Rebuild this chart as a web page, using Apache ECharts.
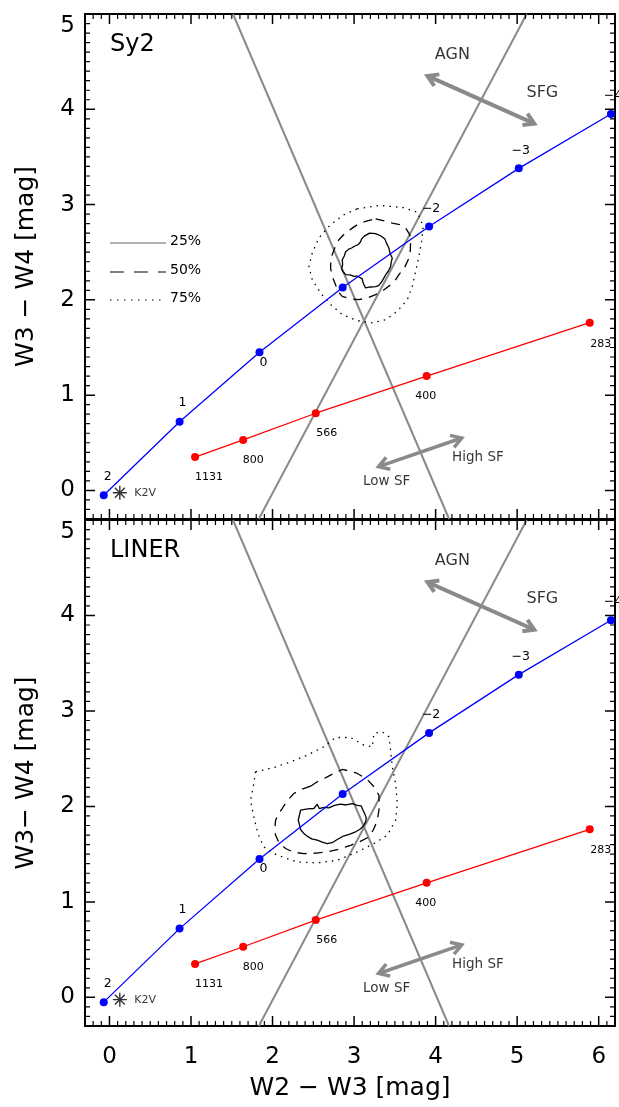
<!DOCTYPE html>
<html>
<head>
<meta charset="utf-8">
<script src="https://cdn.jsdelivr.net/npm/echarts@6/dist/echarts.min.js"></script>
<style>
  html, body { margin: 0; padding: 0; background: #fff; }
  #chart { width: 619px; height: 1107px; }
</style>
</head>
<body>
<div id="chart"></div>
<script>
// ---- axis ranges and tick labels ----
const X_RANGE = [-0.3, 6.2];
const Y_RANGE = [-0.3, 5];
const xTickValues = [0, 1, 2, 3, 4, 5, 6];
const yTickValues = [0, 1, 2, 3, 4, 5];

// ---- power-law AGN track (labelled by spectral index) ----
const plIndexLabels = ['2', '1', '0', '', '−2', '−3', '−4'];
const plW2W3 = [-0.07, 0.86, 1.84, 2.86, 3.92, 5.02, 6.15];
const plW3W4 = [-0.05, 0.72, 1.45, 2.13, 2.77, 3.38, 3.95];

// ---- star-forming track (labelled by dust temperature) ----
const sfLabels = ['1131', '800', '566', '400', '283'];
const sfW2W3 = [1.05, 1.64, 2.53, 3.89, 5.89];
const sfW3W4 = [0.35, 0.53, 0.81, 1.20, 1.76];

// ---- stellar reference ----
const starName = ['K2V'];
const starW2W3 = [0.127];
const starW3W4 = [-0.024];

// ---- dividing lines (end points) ----
const dividerA = [[1.515, 5.0], [4.165, -0.3]];
const dividerB = [[5.117, 5.0], [1.832, -0.3]];

// ---- direction arrows [x1, y1, x2, y2] and their captions ----
const arrowAgnSfg = [3.90, 4.35, 5.21, 3.85];
const arrowSfRate = [3.30, 0.25, 4.32, 0.55];
const captionText = ['AGN', 'SFG', 'Low SF', 'High SF'];
const captionX = [4.205, 5.309, 3.399, 4.519];
const captionY = [4.57, 4.169, 0.091, 0.343];

// ---- density contours, Sy2 sample ----
const sy2C25 = [[3.121,2.666],[3.190,2.700],[3.264,2.694],[3.330,2.670],[3.378,2.638],[3.400,2.590],[3.427,2.544],[3.440,2.490],[3.468,2.439],[3.455,2.390],[3.448,2.351],[3.420,2.300],[3.387,2.264],[3.360,2.220],[3.337,2.187],[3.300,2.150],[3.264,2.138],[3.200,2.135],[3.141,2.125],[3.120,2.160],[3.108,2.187],[3.100,2.220],[3.080,2.236],[3.040,2.250],[2.998,2.246],[2.950,2.262],[2.896,2.264],[2.860,2.300],[2.847,2.327],[2.860,2.370],[2.855,2.421],[2.880,2.460],[2.896,2.502],[2.930,2.530],[2.969,2.544],[3.010,2.565],[3.051,2.579],[3.080,2.610],[3.092,2.638]];
const sy2C50 = [[3.264,2.851],[3.370,2.830],[3.468,2.806],[3.560,2.790],[3.632,2.753],[3.680,2.690],[3.693,2.613],[3.690,2.520],[3.673,2.439],[3.620,2.340],[3.550,2.264],[3.500,2.200],[3.448,2.159],[3.360,2.100],[3.264,2.055],[3.160,2.020],[3.059,2.002],[2.950,2.010],[2.855,2.037],[2.800,2.090],[2.773,2.159],[2.730,2.250],[2.712,2.334],[2.715,2.410],[2.732,2.474],[2.770,2.560],[2.814,2.631],[2.890,2.700],[2.978,2.753],[3.060,2.800],[3.141,2.823]];
const sy2C75 = [[3.039,2.956],[3.305,2.991],[3.591,2.970],[3.775,2.921],[3.849,2.771],[3.828,2.613],[3.795,2.456],[3.755,2.299],[3.714,2.142],[3.653,2.002],[3.530,1.880],[3.387,1.792],[3.223,1.758],[3.039,1.782],[2.855,1.845],[2.712,1.950],[2.589,2.072],[2.487,2.212],[2.446,2.351],[2.487,2.492],[2.568,2.649],[2.691,2.771],[2.855,2.886]];

// ---- density contours, LINER sample ----
const linerC25 = [[2.344,1.960],[2.430,1.975],[2.507,1.978],[2.548,2.023],[2.573,1.978],[2.630,1.990],[2.691,1.984],[2.760,2.010],[2.834,2.023],[2.900,2.015],[2.978,2.030],[3.040,2.010],[3.088,2.005],[3.110,1.960],[3.129,1.926],[3.150,1.880],[3.141,1.838],[3.110,1.790],[3.071,1.761],[3.010,1.730],[2.948,1.709],[2.870,1.690],[2.794,1.653],[2.730,1.620],[2.671,1.611],[2.610,1.625],[2.548,1.646],[2.480,1.660],[2.426,1.688],[2.380,1.720],[2.344,1.758],[2.330,1.810],[2.315,1.855],[2.330,1.910]];
const linerC50 = [[2.466,2.212],[2.570,2.270],[2.671,2.309],[2.760,2.350],[2.855,2.387],[2.950,2.370],[3.039,2.345],[3.110,2.310],[3.162,2.282],[3.250,2.200],[3.304,2.117],[3.310,1.990],[3.285,1.855],[3.240,1.760],[3.182,1.680],[3.070,1.630],[2.957,1.593],[2.810,1.550],[2.671,1.523],[2.530,1.510],[2.384,1.506],[2.260,1.520],[2.160,1.559],[2.080,1.620],[2.037,1.698],[2.030,1.780],[2.037,1.855],[2.070,1.920],[2.119,1.978],[2.180,2.060],[2.261,2.135],[2.360,2.180]];
const linerC75 = [[1.791,2.362],[2.016,2.408],[2.221,2.466],[2.426,2.537],[2.629,2.624],[2.773,2.722],[2.957,2.722],[3.120,2.642],[3.223,2.624],[3.243,2.764],[3.346,2.781],[3.427,2.729],[3.448,2.589],[3.469,2.414],[3.509,2.240],[3.530,2.030],[3.509,1.855],[3.407,1.698],[3.243,1.611],[3.039,1.523],[2.794,1.436],[2.548,1.408],[2.303,1.418],[2.058,1.488],[1.893,1.575],[1.820,1.716],[1.771,1.890],[1.730,2.065],[1.771,2.240]];

const panels = [
  { name: 'Sy2', yTitle: 'W3 − W4 [mag]', contours: [sy2C25, sy2C50, sy2C75], legend: true },
  { name: 'LINER', yTitle: 'W3− W4 [mag]', contours: [linerC25, linerC50, linerC75], legend: false }
];

// ---- styling ----
const FONT = 'DejaVu Sans';
const GRAY = '#8a8a8a';
const plLabelOffsets = [[4, -18], [3, -19], [4, 10], [0, 0], [2, -18], [2, -18], [2, -18]];
const sfLabelOffsets = [[14, 20], [10, 20], [11, 20], [-1, 20], [11, 21]];
const contourDash = ['solid', [9, 7], [1.5, 5]];
const MAJOR_LEN = 10, MINOR_LEN = 5;   // tick lengths in px
const grids = [
  { left: 85, top: 14, width: 530, height: 505 },
  { left: 85, top: 520, width: 530, height: 506 }
];

// tick positions: integers get long ticks, tenths in between get short ones
function minorValues(range) {
  const out = [];
  const lo = Math.round(range[0] * 10), hi = Math.round(range[1] * 10);
  for (let i = lo + 1; i < hi; i++) if (i % 10 !== 0) out.push(i / 10);
  return out;
}
const xMinorValues = minorValues(X_RANGE);
const yMinorValues = minorValues(Y_RANGE);

// Frame ticks as broken line segments in data space: each tick starts on the
// frame and runs inward by a fixed pixel length converted to axis units.
function frameTickData(g, xVals, yVals, lenPx) {
  const grid = grids[g];
  const dx = lenPx * (X_RANGE[1] - X_RANGE[0]) / grid.width;
  const dy = lenPx * (Y_RANGE[1] - Y_RANGE[0]) / grid.height;
  const d = [];
  xVals.forEach(v => {
    d.push([v, Y_RANGE[0]], [v, Y_RANGE[0] + dy], '-');
    d.push([v, Y_RANGE[1]], [v, Y_RANGE[1] - dy], '-');
  });
  yVals.forEach(v => {
    d.push([X_RANGE[0], v], [X_RANGE[0] + dx, v], '-');
    d.push([X_RANGE[1], v], [X_RANGE[1] - dx, v], '-');
  });
  return d;
}

function makeAxis(kind, g, position, showLabels, title) {
  const range = kind === 'x' ? X_RANGE : Y_RANGE;
  const labelSet = kind === 'x' ? xTickValues : yTickValues;
  const axis = {
    type: 'value', gridIndex: g, position: position,
    min: range[0], max: range[1],
    splitNumber: kind === 'x' ? 6 : 5,
    splitLine: { show: false }, minorSplitLine: { show: false },
    axisLine: { show: true, onZero: false, lineStyle: { color: '#000', width: 2 } },
    axisTick: { show: false },
    minorTick: { show: false },
    axisLabel: showLabels ? {
      show: true, showMinLabel: false, showMaxLabel: kind === 'y',
      fontFamily: FONT, fontSize: 23, color: '#000',
      margin: kind === 'x' ? 20 : 10,
      formatter: v => {
        if (labelSet.indexOf(v) < 0) return '';
        return (kind === 'y' && v === range[1]) ? '{top|' + v + '}' : String(v);
      },
      rich: { top: { fontFamily: FONT, fontSize: 23, color: '#000', padding: [24, 0, 0, 0] } }
    } : { show: false }
  };
  if (title) {
    Object.assign(axis, {
      name: title, nameLocation: 'middle',
      nameGap: kind === 'x' ? 50 : 46,
      nameTextStyle: { fontFamily: FONT, fontSize: 25, color: '#000' }
    });
  }
  return axis;
}

const xAxes = [], yAxes = [], series = [], graphics = [];

function arrowItem(params, api) {
  const p1 = api.coord([api.value(0), api.value(1)]);
  const p2 = api.coord([api.value(2), api.value(3)]);
  const ang = Math.atan2(p2[1] - p1[1], p2[0] - p1[0]);
  const len = 12, spread = 0.55;
  const head = (p, a) => [
    [p[0] + len * Math.cos(a + spread), p[1] + len * Math.sin(a + spread)],
    p,
    [p[0] + len * Math.cos(a - spread), p[1] + len * Math.sin(a - spread)]
  ];
  const st = { stroke: GRAY, lineWidth: api.value(4), fill: null, lineJoin: 'miter' };
  return {
    type: 'group',
    children: [
      { type: 'line', shape: { x1: p1[0], y1: p1[1], x2: p2[0], y2: p2[1] }, style: st },
      { type: 'polyline', shape: { points: head(p1, ang) }, style: st },
      { type: 'polyline', shape: { points: head(p2, ang + Math.PI) }, style: st }
    ]
  };
}

panels.forEach((panel, g) => {
  const isBottom = g === panels.length - 1;
  xAxes.push(makeAxis('x', g, 'bottom', isBottom, isBottom ? 'W2 − W3 [mag]' : null));
  xAxes.push(makeAxis('x', g, 'top', false, null));
  yAxes.push(makeAxis('y', g, 'left', true, panel.yTitle));
  yAxes.push(makeAxis('y', g, 'right', false, null));
  const ax = { xAxisIndex: 2 * g, yAxisIndex: 2 * g };

  // frame ticks (long at integers, short at tenths)
  [[xTickValues, yTickValues, MAJOR_LEN, 1.5], [xMinorValues, yMinorValues, MINOR_LEN, 1.2]].forEach(t => {
    series.push(Object.assign({
      type: 'line', symbol: 'none', silent: true, clip: false, z: 8,
      connectNulls: false,
      data: frameTickData(g, t[0], t[1], t[2]),
      lineStyle: { color: '#000', width: t[3] }
    }, ax));
  });

  // dividing lines
  [dividerA, dividerB].forEach(d => series.push(Object.assign({
    type: 'line', data: d, symbol: 'none', silent: true, clip: true, z: 2,
    lineStyle: { color: GRAY, width: 2 }
  }, ax)));

  // contours
  panel.contours.forEach((c, i) => series.push(Object.assign({
    type: 'line', data: c.concat([c[0]]), symbol: 'none', silent: true, z: 3,
    lineStyle: { color: '#000', width: 1.3, type: contourDash[i] }
  }, ax)));

  // power-law track
  series.push(Object.assign({
    type: 'line', symbol: 'circle', symbolSize: 8, z: 5,
    data: plW2W3.map((x, i) => ({
      value: [x, plW3W4[i]],
      label: { show: plIndexLabels[i] !== '', formatter: plIndexLabels[i], offset: plLabelOffsets[i] }
    })),
    itemStyle: { color: '#0000ff' },
    lineStyle: { color: '#0000ff', width: 1.3 },
    label: { position: 'inside', fontFamily: FONT, fontSize: 12.5, color: '#000' }
  }, ax));

  // star-forming track
  series.push(Object.assign({
    type: 'line', symbol: 'circle', symbolSize: 8, z: 5,
    data: sfW2W3.map((x, i) => ({
      value: [x, sfW3W4[i]],
      label: { show: true, formatter: sfLabels[i], offset: sfLabelOffsets[i] }
    })),
    itemStyle: { color: '#ff0000' },
    lineStyle: { color: '#ff0000', width: 1.3 },
    label: { position: 'inside', fontFamily: FONT, fontSize: 11, color: '#000' }
  }, ax));

  // stellar reference point
  series.push(Object.assign({
    type: 'scatter', z: 6, symbolSize: 14,
    symbol: 'path://M0,-1L0,1M-1,0L1,0M-0.7071,-0.7071L0.7071,0.7071M-0.7071,0.7071L0.7071,-0.7071',
    itemStyle: { color: 'none', borderColor: '#000', borderWidth: 1.4 },
    data: starW2W3.map((x, i) => ({
      value: [x, starW3W4[i]], name: starName[i],
      label: { color: '#000' }
    })),
    label: { show: true, position: 'right', distance: 5, formatter: '{b}', fontFamily: FONT, fontSize: 11, color: '#000' }
  }, ax));

  // direction arrows
  series.push(Object.assign({
    type: 'custom', z: 4, silent: true,
    renderItem: arrowItem,
    encode: { x: [0, 2], y: [1, 3] },
    data: [arrowAgnSfg.concat([4]), arrowSfRate.concat([3.5])]
  }, ax));

  // arrow captions
  series.push(Object.assign({
    type: 'scatter', symbol: 'circle', symbolSize: 1, z: 6, silent: true,
    itemStyle: { color: 'rgba(0,0,0,0)' },
    data: captionX.map((x, i) => ({
      value: [x, captionY[i]],
      label: { formatter: captionText[i], fontSize: i < 2 ? 16 : 13.5, color: '#000' }
    })),
    label: { show: true, position: 'inside', fontFamily: FONT, color: '#000' }
  }, ax));

  // panel name
  graphics.push({
    type: 'text', left: 110, top: grids[g].top + 19,
    style: { text: panel.name, font: '24px "' + FONT + '"', fill: '#000' }
  });

  if (panel.legend) {
    const rows = [['25%', 'solid', 243], ['50%', [14, 10], 272], ['75%', [1.5, 5.5], 300]];
    rows.forEach(r => {
      graphics.push({
        type: 'line', shape: { x1: 110, y1: r[2], x2: 166, y2: r[2] },
        style: { stroke: r[1] === 'solid' ? '#666' : '#000', lineWidth: 1.2, lineDash: r[1] === 'solid' ? null : r[1] }
      });
      graphics.push({
        type: 'text', left: 170, top: r[2] - 9,
        style: { text: r[0], font: '14px "' + FONT + '"', fill: '#000' }
      });
    });
  }
});

const chart = echarts.init(document.getElementById('chart'), null, { renderer: 'canvas' });
chart.setOption({
  animation: false,
  backgroundColor: '#fff',
  grid: grids,
  xAxis: xAxes,
  yAxis: yAxes,
  series: series,
  graphic: graphics
});
</script>
</body>
</html>
